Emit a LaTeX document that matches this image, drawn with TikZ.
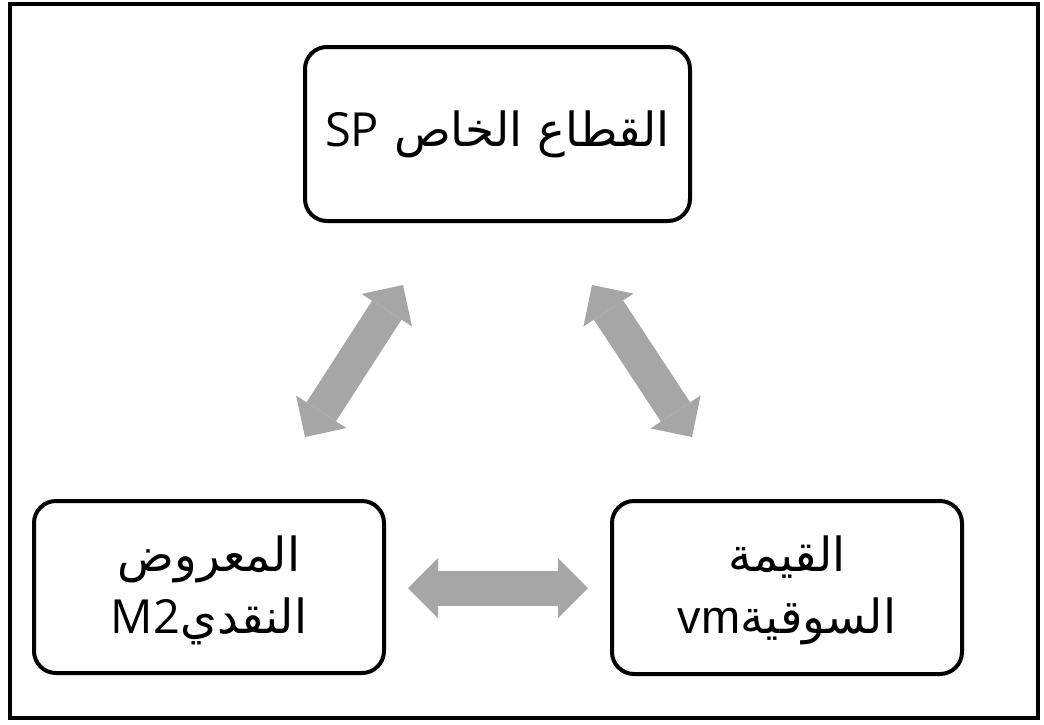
\documentclass[tikz,border=0pt]{standalone}
\usepackage{fontspec}
\setmainfont{Open Sans}
\newfontfamily\arabicfont[Script=Arabic]{DejaVu Sans}
\newfontfamily\arialfont{Liberation Sans}
\TeXXeTstate=1
\usetikzlibrary{arrows.meta}
\definecolor{arrowgray}{HTML}{A6A6A6}
\tikzset{
  box/.style={draw=black, line width=4pt, rounded corners=22pt, fill=white},
  lbl/.style={font=\fontsize{47}{62}\selectfont, align=center},
  bigarrow/.style={draw=arrowgray, line width=35pt,
    {Triangle[width=60pt,length=30pt,line width=0pt]}-{Triangle[width=60pt,length=30pt,line width=0pt]}},
}
\begin{document}
\begin{tikzpicture}[x=1pt,y=-1pt]
\useasboundingbox (0,0) rectangle (1044,724);
\draw[line width=4pt] (10,4) rectangle (1038,718);
% boxes
\draw[box] (305,47) rectangle (690,221);
\draw[box] (34,501) rectangle (384,673);
\draw[box] (612,501) rectangle (962,674);
\node[lbl] (sp) at (497.5,134) {\arabicfont\beginR القطاع الخاص \beginL{\rmfamily SP}\endL\endR};
\node[lbl] (m2) at (209,590) {\arabicfont\beginR المعروض\endR\\\arabicfont\beginR النقدي\beginL{\rmfamily M2}\endL\endR};
\node[lbl] (vm) at (787,590) {\arabicfont\beginR القيمة\endR\\\arabicfont\beginR السوقية\beginL{\arialfont vm}\endL\endR};
% arrows
\coordinate (a1) at (305,437);
\coordinate (a2) at (403,285);
\coordinate (b1) at (592,285);
\coordinate (b2) at (692,437);
\coordinate (c1) at (408,588);
\coordinate (c2) at (588,588);
\draw[bigarrow] (a1) -- (a2);
\draw[bigarrow] (b1) -- (b2);
\draw[bigarrow] (c1) -- (c2);
\end{tikzpicture}
\end{document}
